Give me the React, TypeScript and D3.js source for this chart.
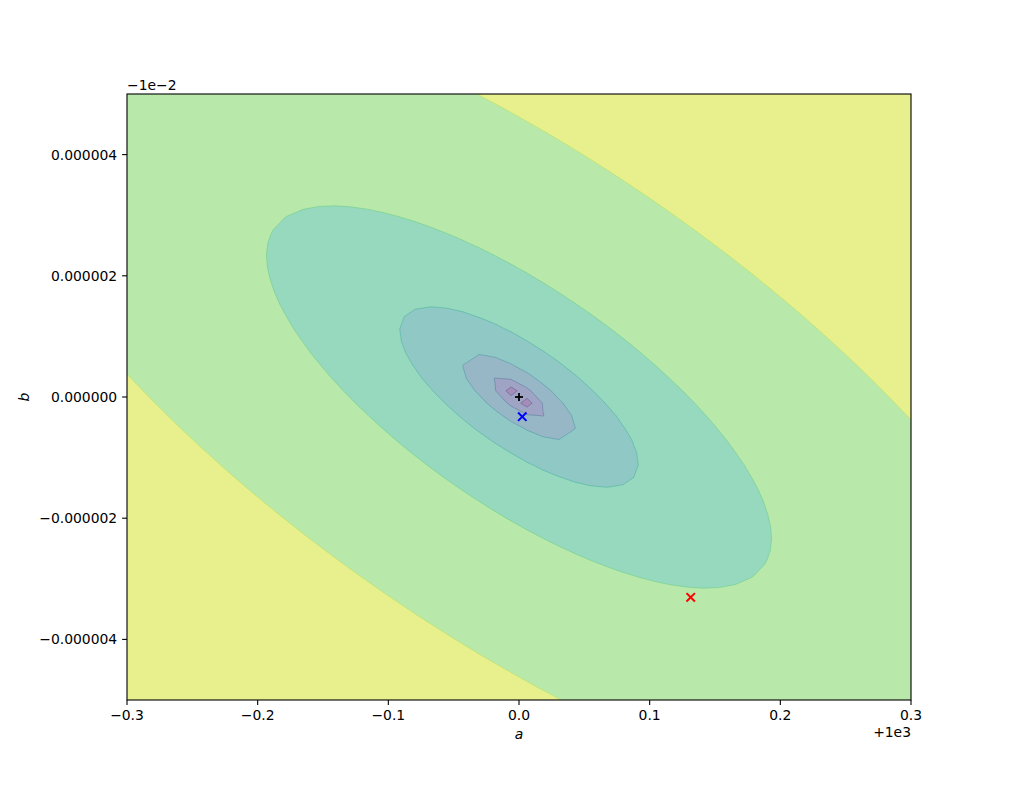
import React, { useEffect, useRef } from "react";
import * as d3 from "d3";

// axis ranges (a shown with +1e3 offset, b with -1e-2 offset)
const aRange = [-0.3, 0.3];
const bRange = [-0.000005, 0.000005];
const aTicks = [-0.3, -0.2, -0.1, 0.0, 0.1, 0.2, 0.3];
const aTickLabels = ["−0.3", "−0.2", "−0.1", "0.0", "0.1", "0.2", "0.3"];
const bTicks = [-0.000004, -0.000002, 0, 0.000002, 0.000004];
const bTickLabels = ["−0.000004", "−0.000002", "0.000000", "0.000002", "0.000004"];

// loss surface: log of a quadratic bowl around the minimum, sampled on a 50x50 grid
const gridSize = 50;
const lossCenter = [0, 0];
const lossCoef = [43285, 65514, 45133]; // uu, uv, vv terms (u, v = offsets / half-range)
const levels = [1.5, 3, 4.5, 6, 7.5, 9, 10.56, 12];

// markers
const markerA = [0.0, 0.0025, 0.1314];
const markerB = [0.0, -0.000000325, -0.000003305];
const markerSymbols = ["+", "x", "x"];
const markerColors = ["#000000", "#0000ff", "#ff0000"];

const W = 1013;
const H = 786;
const left = 127;
const right = 911;
const top = 94;
const bottom = 700;
const font = "'DejaVu Sans', sans-serif";
const fontSize = 13.9;

const blend = (t: number) => {
  const c = d3.rgb(d3.interpolateViridis(t));
  return d3.rgb((c.r + 255) / 2, (c.g + 255) / 2, (c.b + 255) / 2).formatHex();
};

const ContourChart: React.FC = () => {
  const svgRef = useRef<SVGSVGElement>(null);

  useEffect(() => {
    if (!svgRef.current) return;
    const svg = d3.select(svgRef.current);
    svg.selectAll("*").remove();

    const x = d3.scaleLinear().domain(aRange).range([left, right]);
    const y = d3.scaleLinear().domain(bRange).range([bottom, top]);

    const aStep = (aRange[1] - aRange[0]) / (gridSize - 1);
    const bStep = (bRange[1] - bRange[0]) / (gridSize - 1);
    const halfA = (aRange[1] - aRange[0]) / 2;
    const halfB = (bRange[1] - bRange[0]) / 2;

    const values: number[] = new Array(gridSize * gridSize);
    for (let j = 0; j < gridSize; j++) {
      for (let i = 0; i < gridSize; i++) {
        const u = (aRange[0] + i * aStep - lossCenter[0]) / halfA;
        const v = (bRange[0] + j * bStep - lossCenter[1]) / halfB;
        values[i + j * gridSize] = Math.log(
          lossCoef[0] * u * u + lossCoef[1] * u * v + lossCoef[2] * v * v
        );
      }
    }

    const contour = d3.contours().size([gridSize, gridSize]);
    // regions above each level (from the second inner level outwards)
    const upper = contour.thresholds(levels.slice(2, -1))(values);
    // innermost band: contour the negated field so the saddle cells split like matplotlib
    const lowest = contour.thresholds([-levels[1]])(values.map((v) => -v));

    const px = (X: number) => x(aRange[0] + (X - 0.5) * aStep);
    const py = (Y: number) => y(bRange[0] + (Y - 0.5) * bStep);
    const toPath = (mp: any) =>
      mp.coordinates
        .map((poly: number[][][]) =>
          poly
            .map(
              (ring) =>
                "M" + ring.map((p) => `${px(p[0]).toFixed(2)},${py(p[1]).toFixed(2)}`).join("L") + "Z"
            )
            .join("")
        )
        .join("");

    const nLayers = levels.length - 1;
    const layerT = (k: number) => (k + 0.5) / nLayers;

    const defs = svg.append("defs");
    defs
      .append("clipPath")
      .attr("id", "plot-clip")
      .append("rect")
      .attr("x", left)
      .attr("y", top)
      .attr("width", right - left)
      .attr("height", bottom - top);

    const plot = svg.append("g").attr("clip-path", "url(#plot-clip)");

    // second band fills the whole area, higher bands painted on top
    plot
      .append("rect")
      .attr("x", left)
      .attr("y", top)
      .attr("width", right - left)
      .attr("height", bottom - top)
      .attr("fill", blend(layerT(1)));

    upper.forEach((c, k) => {
      plot
        .append("path")
        .attr("d", toPath(c))
        .attr("fill-rule", "evenodd")
        .attr("fill", blend(layerT(k + 2)))
        .attr("stroke", d3.interpolateViridis((k + 2) / nLayers))
        .attr("stroke-opacity", 0.35)
        .attr("stroke-width", 1);
    });

    lowest.forEach((c) => {
      plot
        .append("path")
        .attr("d", toPath(c))
        .attr("fill-rule", "evenodd")
        .attr("fill", blend(layerT(0)))
        .attr("stroke", d3.interpolateViridis(1 / nLayers))
        .attr("stroke-opacity", 0.35)
        .attr("stroke-width", 1);
    });

    // markers
    markerA.forEach((a, i) => {
      const cx = x(a);
      const cy = y(markerB[i]);
      const g = svg
        .append("g")
        .attr("stroke", markerColors[i])
        .attr("stroke-width", markerSymbols[i] === "x" ? 2 : 1.8);
      if (markerSymbols[i] === "x") {
        const s = 4.2;
        g.append("line").attr("x1", cx - s).attr("y1", cy - s).attr("x2", cx + s).attr("y2", cy + s);
        g.append("line").attr("x1", cx - s).attr("y1", cy + s).attr("x2", cx + s).attr("y2", cy - s);
      } else {
        const s = 4;
        g.append("line").attr("x1", cx - s).attr("y1", cy).attr("x2", cx + s).attr("y2", cy);
        g.append("line").attr("x1", cx).attr("y1", cy - s).attr("x2", cx).attr("y2", cy + s);
      }
    });

    // spines
    svg
      .append("rect")
      .attr("x", left)
      .attr("y", top)
      .attr("width", right - left)
      .attr("height", bottom - top)
      .attr("fill", "none")
      .attr("stroke", "black")
      .attr("stroke-width", 1.1);

    const tickLen = 4.9;

    // x ticks
    aTicks.forEach((t, i) => {
      const tx = x(t);
      svg
        .append("line")
        .attr("x1", tx)
        .attr("x2", tx)
        .attr("y1", bottom)
        .attr("y2", bottom + tickLen)
        .attr("stroke", "black")
        .attr("stroke-width", 1.1);
      svg
        .append("text")
        .attr("x", tx)
        .attr("y", 720)
        .attr("text-anchor", "middle")
        .style("font-family", font)
        .style("font-size", `${fontSize}px`)
        .text(aTickLabels[i]);
    });

    // y ticks
    bTicks.forEach((t, i) => {
      const ty = y(t);
      svg
        .append("line")
        .attr("x1", left - tickLen)
        .attr("x2", left)
        .attr("y1", ty)
        .attr("y2", ty)
        .attr("stroke", "black")
        .attr("stroke-width", 1.1);
      svg
        .append("text")
        .attr("x", left - 2 * tickLen)
        .attr("y", ty + 5)
        .attr("text-anchor", "end")
        .style("font-family", font)
        .style("font-size", `${fontSize}px`)
        .text(bTickLabels[i]);
    });

    // offset texts
    svg
      .append("text")
      .attr("x", left)
      .attr("y", 90)
      .style("font-family", font)
      .style("font-size", `${fontSize}px`)
      .text("−1e−2");
    svg
      .append("text")
      .attr("x", right)
      .attr("y", 737)
      .attr("text-anchor", "end")
      .style("font-family", font)
      .style("font-size", `${fontSize}px`)
      .text("+1e3");

    // axis labels
    svg
      .append("text")
      .attr("x", (left + right) / 2)
      .attr("y", 739)
      .attr("text-anchor", "middle")
      .style("font-family", font)
      .style("font-style", "italic")
      .style("font-size", `${fontSize}px`)
      .text("a");
    svg
      .append("text")
      .attr("transform", `translate(29, ${(top + bottom) / 2}) rotate(-90)`)
      .attr("text-anchor", "middle")
      .style("font-family", font)
      .style("font-style", "italic")
      .style("font-size", `${fontSize}px`)
      .text("b");
  }, []);

  return (
    <svg
      ref={svgRef}
      width={W}
      height={H}
      viewBox={`0 0 ${W} ${H}`}
      style={{ position: "absolute", left: 0, top: 0, background: "white" }}
    />
  );
};

export default function App() {
  return <ContourChart />;
}
